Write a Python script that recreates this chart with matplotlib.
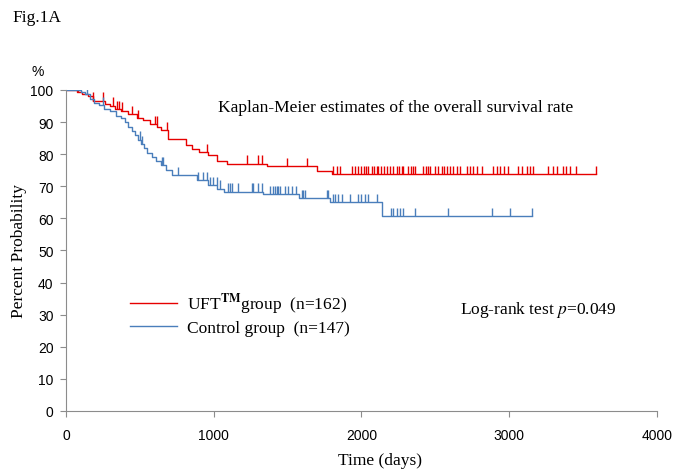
import numpy as np
import matplotlib.pyplot as plt

# Kaplan-Meier steps (days, percent surviving)
uft_t = [0, 75, 110, 150, 185, 265, 300, 330, 375, 420, 480, 520, 570, 615, 640, 690,
         815, 850, 900, 960, 1020, 1090, 1360, 1700, 1800, 3584]
uft_s = [100, 99.4, 98.7, 98.0, 96.7, 95.6, 95.1, 94.1, 93.5, 92.5, 91.3, 90.5, 89.4, 88.4, 87.5, 84.8,
         83.0, 81.6, 80.6, 79.6, 78.0, 77.0, 76.2, 74.9, 73.8, 73.8]
uft_cens = [83, 185, 252, 320, 343, 360, 377, 445, 489, 602, 614, 681, 956, 1222, 1301, 1324,
            1493, 1628, 1809, 1836, 1854, 1933, 1955, 1978, 1994, 2016, 2030, 2046, 2068, 2084,
            2102, 2113, 2129, 2152, 2170, 2192, 2210, 2237, 2253, 2271, 2282, 2316, 2332, 2350,
            2361, 2418, 2436, 2451, 2467, 2497, 2519, 2542, 2557, 2576, 2598, 2621, 2643, 2666,
            2711, 2733, 2756, 2779, 2813, 2891, 2914, 2936, 2963, 2993, 3060, 3083, 3117, 3139,
            3162, 3263, 3297, 3320, 3365, 3387, 3410, 3455, 3584]

ctl_t = [0, 100, 130, 160, 190, 220, 260, 300, 340, 370, 400, 420, 445, 470, 490, 510, 530,
         550, 580, 610, 640, 680, 720, 890, 960, 1020, 1070, 1335, 1580, 1790, 2140, 3157]
ctl_s = [100, 99.3, 98.6, 97.3, 96.0, 95.3, 94.0, 93.3, 92.0, 91.3, 89.9, 88.6, 87.2, 85.9,
         84.5, 83.2, 81.8, 80.5, 79.1, 77.8, 76.5, 75.1, 73.4, 71.8, 70.3, 69.2, 68.3, 67.6,
         66.3, 65.0, 60.7, 60.7]
ctl_cens = [140, 252, 500, 512, 647, 658, 760, 895, 929, 952, 974, 997, 1019, 1042, 1098, 1110,
            1121, 1166, 1256, 1267, 1301, 1324, 1380, 1398, 1414, 1425, 1437, 1448, 1482, 1504,
            1527, 1556, 1595, 1606, 1617, 1764, 1775, 1809, 1820, 1842, 1865, 1922, 1978, 2000,
            2023, 2046, 2102, 2203, 2215, 2237, 2260, 2282, 2361, 2587, 2880, 3004, 3157]

red = '#e60000'
blue = '#4a7ebb'
grey = '#8c8c8c'

plt.rcParams['mathtext.fontset'] = 'stix'
serif = 'Liberation Serif'
sans = 'Liberation Sans'
fs = 12.5

fig = plt.figure(figsize=(6.79, 4.77), dpi=100)
ax = fig.add_axes([0.0972, 0.1363, 0.8704, 0.673])


def km(ax, t, s, cens, color, label):
    ax.step(t, s, where='post', color=color, lw=1.0, label=label)
    t = np.asarray(t)
    idx = np.searchsorted(t, cens, side='right') - 1
    y = np.asarray(s)[np.clip(idx, 0, len(s) - 1)]
    ax.vlines(cens, y, y + 2.6, color=color, lw=1.0)


km(ax, uft_t, uft_s, uft_cens, red, 'UFT$^{\\mathbf{TM}}$group  (n=162)')
km(ax, ctl_t, ctl_s, ctl_cens, blue, 'Control group  (n=147)')

ax.set_xlim(0, 4000)
ax.set_ylim(0, 100)
ax.set_xticks(np.arange(0, 4001, 1000))
ax.set_yticks(np.arange(0, 101, 10))
for sp in ['top', 'right']:
    ax.spines[sp].set_visible(False)
for sp in ['left', 'bottom']:
    ax.spines[sp].set_color(grey)
ax.tick_params(colors=grey, length=4, labelcolor='black', labelsize=10)
ax.tick_params(axis='x', pad=8)
ax.tick_params(axis='y', pad=5)
for lab in ax.get_xticklabels() + ax.get_yticklabels():
    lab.set_fontfamily(sans)

ax.set_xlabel('Time (days)', family=serif, fontsize=fs)
ax.xaxis.set_label_coords(0.531, -0.128)
ax.set_ylabel('Percent Probability', family=serif, fontsize=fs)
ax.yaxis.set_label_coords(-0.066, 0.5)

ax.text(0.557, 0.947, 'Kaplan-Meier estimates of the overall survival rate',
        transform=ax.transAxes, ha='center', va='center', family=serif, fontsize=fs)
ax.text(0.667, 0.318, 'Log-rank test $p$=0.049', transform=ax.transAxes,
        ha='left', va='center', family=serif, fontsize=fs)

ax.legend(loc='upper left', bbox_to_anchor=(0.082, 0.42), frameon=False,
          prop={'family': serif, 'size': fs}, handlelength=2.7, handletextpad=0.6,
          labelspacing=0.2)

fig.text(0.0177, 0.962, 'Fig.1A', family=serif, fontsize=fs, va='center')
fig.text(0.056, 0.849, '%', family=sans, fontsize=10, ha='center', va='center')

fig.savefig('out.png', dpi=100)
